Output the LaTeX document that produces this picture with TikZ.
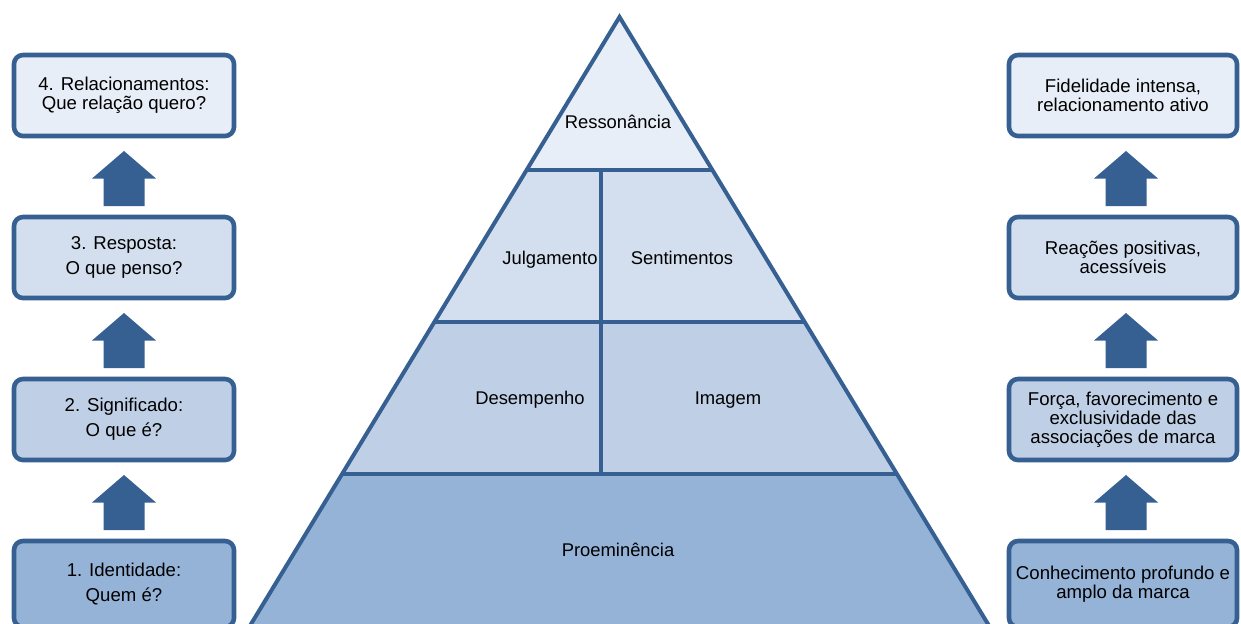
\documentclass[tikz,border=0pt]{standalone}
\usepackage{fontspec}
\setmainfont{Liberation Sans}
\usetikzlibrary{calc}

\definecolor{edge}{HTML}{376092}
\definecolor{tierA}{HTML}{E8EEF7}
\definecolor{tierB}{HTML}{D3DFEE}
\definecolor{tierC}{HTML}{BFD0E6}
\definecolor{tierD}{HTML}{95B3D7}

\tikzset{
  level/.style={draw=edge, line width=2.3pt, rounded corners=4.5pt,
    minimum height=40.5pt, align=center, inner sep=2pt,
    font=\fontsize{9.3pt}{12.5pt}\selectfont},
  leftbox/.style={level, minimum width=110pt},
  rightbox/.style={level, minimum width=114pt},
  tight/.style={font=\fontsize{9.3pt}{9.4pt}\selectfont},
  tierlabel/.style={font=\fontsize{9.2pt}{11pt}\selectfont, inner sep=0pt,
    text height=6.6pt, text depth=0.4pt},
  wall/.style={draw=edge, line width=2pt},
  pics/uparrow/.style={code={
    \fill[edge] (0,-27.5) -- (32,0) -- (20.5,0) -- (20.5,27.5)
      -- (-20.5,27.5) -- (-20.5,0) -- (-32,0) -- cycle;
  }}
}

\begin{document}
\begin{tikzpicture}[x=0.5pt, y=-0.5pt]
\useasboundingbox (0,0) rectangle (1241,623);
\fill[white] (0,0) rectangle (1241,623);

% ---- pyramid corners ----
\coordinate (apex) at (619.5,17);
\coordinate (l1) at (526.6,170); \coordinate (r1) at (712.4,170);
\coordinate (l2) at (434.4,322); \coordinate (r2) at (804.6,322);
\coordinate (l3) at (342.1,474); \coordinate (r3) at (896.9,474);
\coordinate (l4) at (247.4,630); \coordinate (r4) at (991.6,630);
\coordinate (m1) at (601,170); \coordinate (m2) at (601,322);
\coordinate (m3) at (601,474);

% tier fills
\fill[tierA] (apex) -- (r1) -- (l1) -- cycle;
\fill[tierB] (l1) -- (r1) -- (r2) -- (l2) -- cycle;
\fill[tierC] (l2) -- (r2) -- (r3) -- (l3) -- cycle;
\fill[tierD] (l3) -- (r3) -- (r4) -- (l4) -- cycle;

% tier outlines
\draw[wall, line join=miter] (l4) -- (apex) -- (r4);
\draw[wall] (l1) -- (r1);
\draw[wall] (l2) -- (r2);
\draw[wall] (l3) -- (r3);
\draw[wall] (m1) -- (m3);

% tier labels
\node[tierlabel] (res) at (618,122) {Ressonância};
\node[tierlabel] (jul) at (550,258) {Julgamento};
\node[tierlabel] (sen) at (682,258) {Sentimentos};
\node[tierlabel] (des) at (530,398) {Desempenho};
\node[tierlabel] (ima) at (728,398) {Imagem};
\node[tierlabel] (pro) at (618,550) {Proeminência};

% ---- left column: brand building steps ----
\node[leftbox, fill=tierA, tight] (q4) at (124,95.5) {4. Relacionamentos:\\Que relação quero?};
\node[leftbox, fill=tierB] (q3) at (124,257.5) {3. Resposta:\\O que penso?};
\node[leftbox, fill=tierC] (q2) at (124,419.5) {2. Significado:\\O que é?};
\node[leftbox, fill=tierD, minimum height=43pt] (q1) at (124,584) {1. Identidade:\\Quem é?};

\path ($(q1.north)!0.5!(q2.south)+(0,2)$) pic {uparrow};
\path ($(q2.north)!0.5!(q3.south)+(0,2)$) pic {uparrow};
\path ($(q3.north)!0.5!(q4.south)+(0,2)$) pic {uparrow};

% ---- right column: brand objectives ----
\node[rightbox, fill=tierA, tight] (o4) at (1123,95.5) {Fidelidade intensa,\\relacionamento ativo};
\node[rightbox, fill=tierB, tight] (o3) at (1123,257.5) {Reações positivas,\\acessíveis};
\node[rightbox, fill=tierC, tight] (o2) at (1123,419.5) {Força, favorecimento e\\exclusividade das\\associações de marca};
\node[rightbox, fill=tierD, tight, minimum height=43pt] (o1) at (1123,584) {Conhecimento profundo e\\amplo da marca};

\path ($(o1.north)!0.5!(o2.south)+(3,2)$) pic {uparrow};
\path ($(o2.north)!0.5!(o3.south)+(3,2)$) pic {uparrow};
\path ($(o3.north)!0.5!(o4.south)+(3,2)$) pic {uparrow};
\end{tikzpicture}
\end{document}
